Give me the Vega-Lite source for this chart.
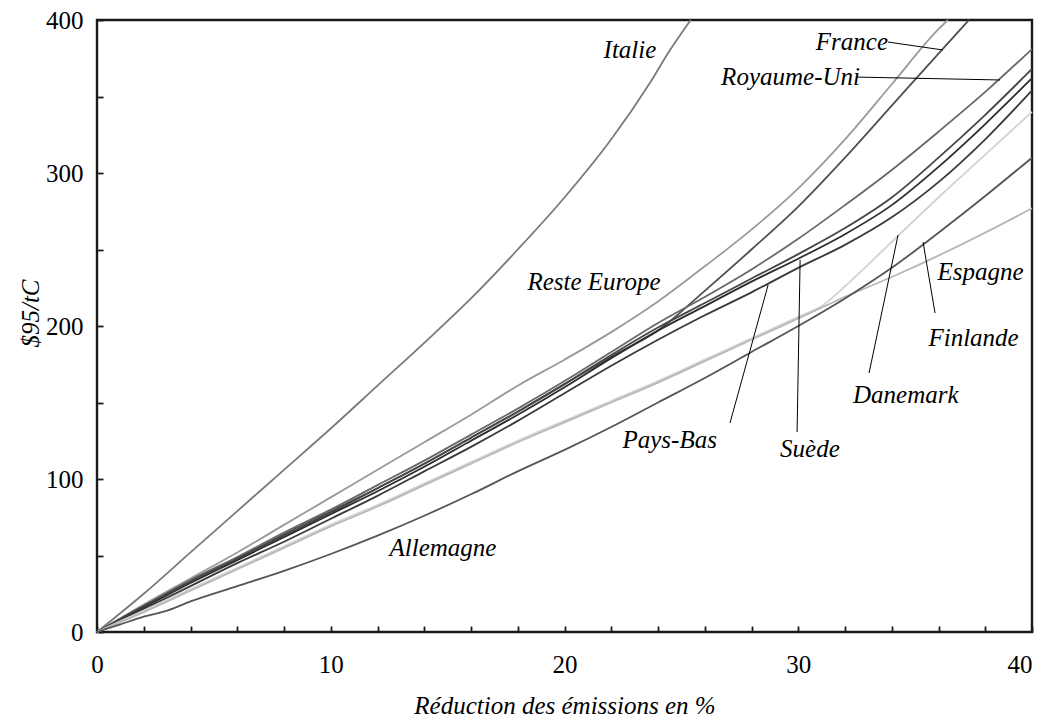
{
  "$schema": "https://vega.github.io/schema/vega-lite/v6.json",
  "width": 935,
  "height": 612,
  "autosize": {"type": "none"},
  "padding": {"left": 97, "top": 20, "right": 10, "bottom": 88},
  "background": "white",
  "config": {
    "view": {"stroke": "#1a1a1a", "strokeWidth": 2.4},
    "axis": {
      "labelFont": "Liberation Serif",
      "labelFontSize": 25,
      "labelColor": "#000",
      "titleFont": "Liberation Serif",
      "titleFontSize": 25,
      "titleFontStyle": "italic",
      "titleFontWeight": "normal",
      "titleColor": "#000",
      "tickColor": "#1a1a1a",
      "tickWidth": 1.8,
      "grid": false,
      "domain": false
    }
  },
  "datasets": {
    "series": [
      {"pays": "Italie", "x": 0, "y": 0}, {"pays": "Italie", "x": 2, "y": 25}, {"pays": "Italie", "x": 4, "y": 52}, {"pays": "Italie", "x": 6, "y": 79}, {"pays": "Italie", "x": 8, "y": 106}, {"pays": "Italie", "x": 10, "y": 133}, {"pays": "Italie", "x": 12, "y": 161}, {"pays": "Italie", "x": 14, "y": 189}, {"pays": "Italie", "x": 16, "y": 218}, {"pays": "Italie", "x": 18, "y": 250}, {"pays": "Italie", "x": 20, "y": 284}, {"pays": "Italie", "x": 22, "y": 322}, {"pays": "Italie", "x": 23.7, "y": 360}, {"pays": "Italie", "x": 24.5, "y": 380}, {"pays": "Italie", "x": 25.4, "y": 400},
      {"pays": "Reste Europe", "x": 0, "y": 0}, {"pays": "Reste Europe", "x": 2, "y": 18}, {"pays": "Reste Europe", "x": 4, "y": 35}, {"pays": "Reste Europe", "x": 6, "y": 52}, {"pays": "Reste Europe", "x": 8, "y": 70}, {"pays": "Reste Europe", "x": 10, "y": 88}, {"pays": "Reste Europe", "x": 12, "y": 106}, {"pays": "Reste Europe", "x": 14, "y": 124}, {"pays": "Reste Europe", "x": 16, "y": 142}, {"pays": "Reste Europe", "x": 18, "y": 161}, {"pays": "Reste Europe", "x": 20, "y": 178}, {"pays": "Reste Europe", "x": 22, "y": 196}, {"pays": "Reste Europe", "x": 24, "y": 216}, {"pays": "Reste Europe", "x": 26, "y": 239}, {"pays": "Reste Europe", "x": 28, "y": 263}, {"pays": "Reste Europe", "x": 30, "y": 290}, {"pays": "Reste Europe", "x": 32, "y": 322}, {"pays": "Reste Europe", "x": 34, "y": 358}, {"pays": "Reste Europe", "x": 36, "y": 394}, {"pays": "Reste Europe", "x": 36.4, "y": 400},
      {"pays": "France", "x": 0, "y": 0}, {"pays": "France", "x": 2, "y": 17}, {"pays": "France", "x": 4, "y": 33}, {"pays": "France", "x": 6, "y": 48}, {"pays": "France", "x": 8, "y": 64}, {"pays": "France", "x": 10, "y": 79}, {"pays": "France", "x": 12, "y": 94}, {"pays": "France", "x": 14, "y": 110}, {"pays": "France", "x": 16, "y": 127}, {"pays": "France", "x": 18, "y": 144}, {"pays": "France", "x": 20, "y": 162}, {"pays": "France", "x": 22, "y": 180}, {"pays": "France", "x": 24, "y": 197}, {"pays": "France", "x": 26, "y": 223}, {"pays": "France", "x": 28, "y": 250}, {"pays": "France", "x": 30, "y": 278}, {"pays": "France", "x": 32, "y": 310}, {"pays": "France", "x": 34, "y": 344}, {"pays": "France", "x": 36, "y": 378}, {"pays": "France", "x": 37.3, "y": 400},
      {"pays": "Royaume-Uni", "x": 0, "y": 0}, {"pays": "Royaume-Uni", "x": 2, "y": 17}, {"pays": "Royaume-Uni", "x": 4, "y": 34}, {"pays": "Royaume-Uni", "x": 6, "y": 49}, {"pays": "Royaume-Uni", "x": 8, "y": 65}, {"pays": "Royaume-Uni", "x": 10, "y": 80}, {"pays": "Royaume-Uni", "x": 12, "y": 96}, {"pays": "Royaume-Uni", "x": 14, "y": 112}, {"pays": "Royaume-Uni", "x": 16, "y": 129}, {"pays": "Royaume-Uni", "x": 18, "y": 146}, {"pays": "Royaume-Uni", "x": 20, "y": 164}, {"pays": "Royaume-Uni", "x": 22, "y": 183}, {"pays": "Royaume-Uni", "x": 24, "y": 202}, {"pays": "Royaume-Uni", "x": 26, "y": 219}, {"pays": "Royaume-Uni", "x": 28, "y": 237}, {"pays": "Royaume-Uni", "x": 30, "y": 257}, {"pays": "Royaume-Uni", "x": 32, "y": 279}, {"pays": "Royaume-Uni", "x": 34, "y": 302}, {"pays": "Royaume-Uni", "x": 36, "y": 327}, {"pays": "Royaume-Uni", "x": 38, "y": 353}, {"pays": "Royaume-Uni", "x": 40, "y": 381},
      {"pays": "Pays-Bas", "x": 0, "y": 0}, {"pays": "Pays-Bas", "x": 2, "y": 15}, {"pays": "Pays-Bas", "x": 4, "y": 30}, {"pays": "Pays-Bas", "x": 6, "y": 45}, {"pays": "Pays-Bas", "x": 8, "y": 59}, {"pays": "Pays-Bas", "x": 10, "y": 74}, {"pays": "Pays-Bas", "x": 12, "y": 89}, {"pays": "Pays-Bas", "x": 14, "y": 105}, {"pays": "Pays-Bas", "x": 16, "y": 121}, {"pays": "Pays-Bas", "x": 18, "y": 138}, {"pays": "Pays-Bas", "x": 20, "y": 156}, {"pays": "Pays-Bas", "x": 22, "y": 174}, {"pays": "Pays-Bas", "x": 24, "y": 191}, {"pays": "Pays-Bas", "x": 26, "y": 207}, {"pays": "Pays-Bas", "x": 28, "y": 222}, {"pays": "Pays-Bas", "x": 30, "y": 238}, {"pays": "Pays-Bas", "x": 32, "y": 253}, {"pays": "Pays-Bas", "x": 34, "y": 271}, {"pays": "Pays-Bas", "x": 36, "y": 294}, {"pays": "Pays-Bas", "x": 38, "y": 322}, {"pays": "Pays-Bas", "x": 40, "y": 354},
      {"pays": "Suède", "x": 0, "y": 0}, {"pays": "Suède", "x": 2, "y": 16}, {"pays": "Suède", "x": 4, "y": 32}, {"pays": "Suède", "x": 6, "y": 47}, {"pays": "Suède", "x": 8, "y": 62}, {"pays": "Suède", "x": 10, "y": 77}, {"pays": "Suède", "x": 12, "y": 92}, {"pays": "Suède", "x": 14, "y": 108}, {"pays": "Suède", "x": 16, "y": 125}, {"pays": "Suède", "x": 18, "y": 142}, {"pays": "Suède", "x": 20, "y": 160}, {"pays": "Suède", "x": 22, "y": 179}, {"pays": "Suède", "x": 24, "y": 197}, {"pays": "Suède", "x": 26, "y": 213}, {"pays": "Suède", "x": 28, "y": 229}, {"pays": "Suède", "x": 30, "y": 244}, {"pays": "Suède", "x": 32, "y": 260}, {"pays": "Suède", "x": 34, "y": 279}, {"pays": "Suède", "x": 36, "y": 304}, {"pays": "Suède", "x": 38, "y": 332}, {"pays": "Suède", "x": 40, "y": 362},
      {"pays": "Finlande", "x": 0, "y": 0}, {"pays": "Finlande", "x": 2, "y": 17}, {"pays": "Finlande", "x": 4, "y": 33}, {"pays": "Finlande", "x": 6, "y": 48}, {"pays": "Finlande", "x": 8, "y": 63}, {"pays": "Finlande", "x": 10, "y": 78}, {"pays": "Finlande", "x": 12, "y": 94}, {"pays": "Finlande", "x": 14, "y": 110}, {"pays": "Finlande", "x": 16, "y": 127}, {"pays": "Finlande", "x": 18, "y": 144}, {"pays": "Finlande", "x": 20, "y": 162}, {"pays": "Finlande", "x": 22, "y": 181}, {"pays": "Finlande", "x": 24, "y": 199}, {"pays": "Finlande", "x": 26, "y": 215}, {"pays": "Finlande", "x": 28, "y": 231}, {"pays": "Finlande", "x": 30, "y": 247}, {"pays": "Finlande", "x": 32, "y": 264}, {"pays": "Finlande", "x": 34, "y": 284}, {"pays": "Finlande", "x": 36, "y": 310}, {"pays": "Finlande", "x": 38, "y": 338}, {"pays": "Finlande", "x": 40, "y": 368},
      {"pays": "Danemark", "x": 0, "y": 0}, {"pays": "Danemark", "x": 2, "y": 14}, {"pays": "Danemark", "x": 4, "y": 28}, {"pays": "Danemark", "x": 6, "y": 42}, {"pays": "Danemark", "x": 8, "y": 56}, {"pays": "Danemark", "x": 10, "y": 70}, {"pays": "Danemark", "x": 12, "y": 83}, {"pays": "Danemark", "x": 14, "y": 97}, {"pays": "Danemark", "x": 16, "y": 111}, {"pays": "Danemark", "x": 18, "y": 125}, {"pays": "Danemark", "x": 20, "y": 138}, {"pays": "Danemark", "x": 22, "y": 151}, {"pays": "Danemark", "x": 24, "y": 164}, {"pays": "Danemark", "x": 26, "y": 178}, {"pays": "Danemark", "x": 28, "y": 192}, {"pays": "Danemark", "x": 30, "y": 206}, {"pays": "Danemark", "x": 31, "y": 213}, {"pays": "Danemark", "x": 32, "y": 226}, {"pays": "Danemark", "x": 34, "y": 255}, {"pays": "Danemark", "x": 36, "y": 284}, {"pays": "Danemark", "x": 38, "y": 312}, {"pays": "Danemark", "x": 40, "y": 340},
      {"pays": "Espagne", "x": 0, "y": 0}, {"pays": "Espagne", "x": 2, "y": 13}, {"pays": "Espagne", "x": 4, "y": 27}, {"pays": "Espagne", "x": 6, "y": 41}, {"pays": "Espagne", "x": 8, "y": 55}, {"pays": "Espagne", "x": 10, "y": 69}, {"pays": "Espagne", "x": 12, "y": 82}, {"pays": "Espagne", "x": 14, "y": 96}, {"pays": "Espagne", "x": 16, "y": 110}, {"pays": "Espagne", "x": 18, "y": 124}, {"pays": "Espagne", "x": 20, "y": 137}, {"pays": "Espagne", "x": 22, "y": 150}, {"pays": "Espagne", "x": 24, "y": 163}, {"pays": "Espagne", "x": 26, "y": 177}, {"pays": "Espagne", "x": 28, "y": 191}, {"pays": "Espagne", "x": 30, "y": 205}, {"pays": "Espagne", "x": 31, "y": 212}, {"pays": "Espagne", "x": 32, "y": 219}, {"pays": "Espagne", "x": 34, "y": 232}, {"pays": "Espagne", "x": 36, "y": 246}, {"pays": "Espagne", "x": 38, "y": 261}, {"pays": "Espagne", "x": 40, "y": 277},
      {"pays": "Allemagne", "x": 0, "y": 0}, {"pays": "Allemagne", "x": 1, "y": 5}, {"pays": "Allemagne", "x": 2, "y": 10}, {"pays": "Allemagne", "x": 3, "y": 14}, {"pays": "Allemagne", "x": 4, "y": 20}, {"pays": "Allemagne", "x": 6, "y": 30}, {"pays": "Allemagne", "x": 8, "y": 40}, {"pays": "Allemagne", "x": 10, "y": 51}, {"pays": "Allemagne", "x": 12, "y": 63}, {"pays": "Allemagne", "x": 14, "y": 76}, {"pays": "Allemagne", "x": 16, "y": 90}, {"pays": "Allemagne", "x": 18, "y": 105}, {"pays": "Allemagne", "x": 20, "y": 119}, {"pays": "Allemagne", "x": 22, "y": 134}, {"pays": "Allemagne", "x": 24, "y": 150}, {"pays": "Allemagne", "x": 26, "y": 166}, {"pays": "Allemagne", "x": 28, "y": 183}, {"pays": "Allemagne", "x": 30, "y": 200}, {"pays": "Allemagne", "x": 32, "y": 218}, {"pays": "Allemagne", "x": 34, "y": 238}, {"pays": "Allemagne", "x": 36, "y": 261}, {"pays": "Allemagne", "x": 38, "y": 285}, {"pays": "Allemagne", "x": 40, "y": 310}
    ],
    "labels": [
      {"label": "Italie", "x": 22.8, "y": 380.4},
      {"label": "France", "x": 33.84, "y": 385.6},
      {"label": "Royaume-Uni", "x": 32.64, "y": 362.7},
      {"label": "Reste Europe", "x": 21.26, "y": 228.8},
      {"label": "Pays-Bas", "x": 24.5, "y": 125.5},
      {"label": "Suède", "x": 30.5, "y": 119.6},
      {"label": "Danemark", "x": 34.6, "y": 154.9},
      {"label": "Espagne", "x": 37.8, "y": 235.3},
      {"label": "Finlande", "x": 37.5, "y": 192.2},
      {"label": "Allemagne", "x": 14.8, "y": 54.9}
    ],
    "pointers": [
      {"label": "France", "x": 33.84, "y": 385.6, "x2": 36.19, "y2": 380.4},
      {"label": "Royaume-Uni", "x": 32.51, "y": 362.7, "x2": 38.63, "y2": 360.8},
      {"label": "Pays-Bas", "x": 28.71, "y": 226.8, "x2": 27.08, "y2": 136.6},
      {"label": "Suède", "x": 30.08, "y": 243.1, "x2": 29.95, "y2": 130.7},
      {"label": "Danemark", "x": 34.27, "y": 259.5, "x2": 33.03, "y2": 169.3},
      {"label": "Finlande", "x": 35.34, "y": 254.9, "x2": 35.85, "y2": 208.5}
    ]
  },
  "encoding": {
    "x": {
      "field": "x",
      "type": "quantitative",
      "scale": {"domain": [0, 40], "nice": false, "zero": false},
      "axis": {
        "title": "Réduction des émissions en %",
        "values": [0, 2, 4, 6, 8, 10, 12, 14, 16, 18, 20, 22, 24, 26, 28, 30, 32, 34, 36, 38, 40],
        "labelExpr": "datum.value % 10 === 0 ? datum.label : ''",
        "labelOverlap": false,
        "labelFlush": false,
        "labelAlign": {"condition": {"test": "datum.value === 40", "value": "right"}, "value": "center"},
        "tickSize": -6,
        "labelPadding": 26,
        "titleBaseline": "middle",
        "titleY": 73
      }
    },
    "y": {
      "field": "y",
      "type": "quantitative",
      "scale": {"domain": [0, 400], "nice": false, "zero": false},
      "axis": {
        "title": "$95/tC",
        "values": [0, 50, 100, 150, 200, 250, 300, 350, 400],
        "labelExpr": "datum.value % 100 === 0 ? datum.label : ''",
        "labelOverlap": false,
        "labelFlush": false,
        "tickSize": -6,
        "labelPadding": 20,
        "titleBaseline": "middle",
        "titleAlign": "center",
        "titleX": -67,
        "titleY": 293
      }
    }
  },
  "layer": [
    {
      "data": {"name": "series"},
      "mark": {"type": "line", "strokeWidth": 1.8, "interpolate": "monotone"},
      "encoding": {
        "color": {
          "field": "pays",
          "type": "nominal",
          "legend": null,
          "scale": {
            "domain": ["Italie", "Reste Europe", "France", "Royaume-Uni", "Pays-Bas", "Suède", "Finlande", "Danemark", "Espagne", "Allemagne"],
            "range": ["#7a7a7a", "#9a9a9a", "#505050", "#686868", "#3a3a3a", "#2c2c2c", "#454545", "#d2d2d2", "#b8b8b8", "#555555"]
          }
        },
        "detail": {"field": "pays"}
      }
    },
    {
      "data": {"name": "pointers"},
      "mark": {"type": "rule", "color": "#000", "strokeWidth": 1},
      "encoding": {
        "x2": {"field": "x2"},
        "y2": {"field": "y2"}
      }
    },
    {
      "data": {"name": "labels"},
      "transform": [{"filter": "datum.label !== 'France' && datum.label !== 'Royaume-Uni'"}],
      "mark": {"type": "text", "font": "Liberation Serif", "fontStyle": "italic", "fontSize": 25, "align": "center", "baseline": "middle", "color": "#000"},
      "encoding": {"text": {"field": "label"}}
    },
    {
      "data": {"name": "labels"},
      "transform": [{"filter": "datum.label === 'France' || datum.label === 'Royaume-Uni'"}],
      "mark": {"type": "text", "font": "Liberation Serif", "fontStyle": "italic", "fontSize": 25, "align": "right", "baseline": "middle", "color": "#000"},
      "encoding": {"text": {"field": "label"}}
    }
  ]
}
